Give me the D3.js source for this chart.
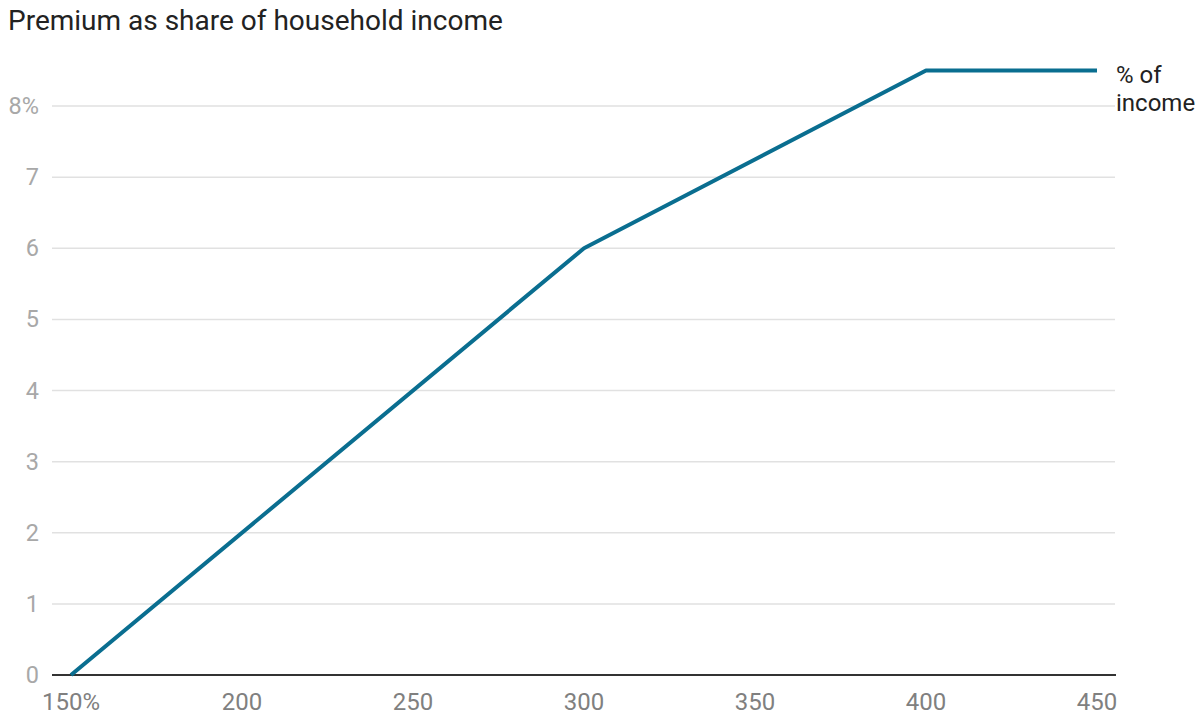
<!DOCTYPE html>
<html>
<head>
<meta charset="utf-8">
<script src="https://cdn.jsdelivr.net/npm/d3@7"></script>
<style>
  body { margin: 0; background: #fff; }
  svg { font-family: Roboto, "Noto Sans", sans-serif; }
</style>
</head>
<body>
<svg id="chart" width="1202" height="715"></svg>
<script>
// Income as % of poverty level vs premium as % of income
const incomeLevels = [150, 300, 400, 450];
const premiumShare = [0, 6, 8.5, 8.5];
const xTicks = [150, 200, 250, 300, 350, 400, 450];
const yTicks = [0, 1, 2, 3, 4, 5, 6, 7, 8];

const data = incomeLevels.map((x, i) => ({ x: x, y: premiumShare[i] }));

const svg = d3.select('#chart');

const x = d3.scaleLinear().domain([150, 450]).range([71, 1097]);
const y = d3.scaleLinear().domain([0, 8]).range([675, 106]);

// title
svg.append('text')
  .attr('x', 8).attr('y', 30)
  .style('font-size', '28px')
  .style('fill', '#222')
  .text('Premium as share of household income');

// gridlines
svg.append('g').selectAll('line')
  .data(yTicks.filter(d => d > 0))
  .join('line')
  .attr('x1', 52).attr('x2', 1115)
  .attr('y1', d => y(d)).attr('y2', d => y(d))
  .style('stroke', '#e1e1e1')
  .style('stroke-width', 1.5);

// y labels
svg.append('g').selectAll('text')
  .data(yTicks)
  .join('text')
  .attr('x', 39)
  .attr('y', d => y(d) + 8)
  .attr('text-anchor', 'end')
  .style('font-size', '23.5px')
  .style('fill', '#a8a8a8')
  .text(d => d === 8 ? '8%' : d);

// x labels
svg.append('g').selectAll('text')
  .data(xTicks)
  .join('text')
  .attr('x', d => x(d))
  .attr('y', 710)
  .attr('text-anchor', 'middle')
  .style('font-size', '24px')
  .style('fill', '#808080')
  .text(d => d === 150 ? '150%' : d);

// baseline
svg.append('line')
  .attr('x1', 52).attr('x2', 1116)
  .attr('y1', y(0)).attr('y2', y(0))
  .style('stroke', '#333')
  .style('stroke-width', 2);

// series line
const line = d3.line().x(d => x(d.x)).y(d => y(d.y));
svg.append('path')
  .datum(data)
  .attr('d', line)
  .style('fill', 'none')
  .style('stroke', '#0a6e90')
  .style('stroke-width', 4)
  .style('stroke-linejoin', 'round');

// series label
const lab = svg.append('text')
  .attr('x', 1116)
  .attr('y', 83)
  .style('font-size', '24px')
  .style('fill', '#222');
lab.append('tspan').attr('x', 1116).text('% of');
lab.append('tspan').attr('x', 1116).attr('dy', 28).text('income');
</script>
</body>
</html>
